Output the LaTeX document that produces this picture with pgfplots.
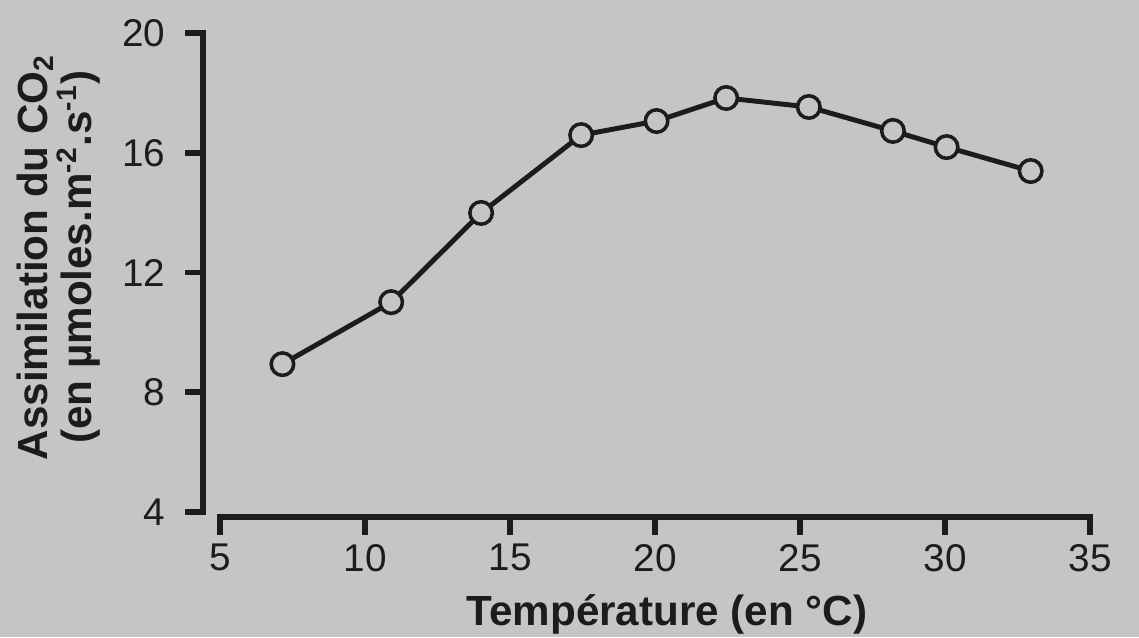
\documentclass[border=0pt]{standalone}
\usepackage{pgfplots}
\pgfplotsset{compat=1.18}
\usepackage{fontspec}
\setmainfont{Liberation Sans}
\usetikzlibrary{backgrounds}
\definecolor{paper}{RGB}{197,197,195}
\definecolor{ink}{RGB}{28,28,28}
\begin{document}
\begin{tikzpicture}
\begin{axis}[
    at={(0,0)}, anchor=south west,
    scale only axis,
    width=252.4pt, height=137.7pt,
    xmin=4.41, xmax=35,
    ymin=3.833, ymax=20,
    axis lines=left,
    axis line style={draw=none,-},
    clip=false,
    xtick={5,10,...,35},
    ytick={4,8,...,20},
    tick align=outside,
    major tick length=5pt,
    tick style={ink, line width=1.6pt},
    /pgf/number format/assume math mode=true,
    tick label style={font=\fontsize{11}{13}\selectfont, text=ink},
    xticklabel style={anchor=north, inner sep=0pt, yshift=-2.5pt},
    yticklabel style={anchor=east, inner sep=0pt, xshift=-5.5pt},
    xlabel={Température (en °C)},
    xlabel style={at={(axis description cs:0.523,0)}, anchor=north, inner sep=0pt,
        yshift=-22pt, font=\bfseries\fontsize{12}{14}\selectfont, text=ink},
    ylabel={Assimilation du CO\textsubscript{2}\\(en µmoles.m\textsuperscript{-2}.s\textsuperscript{-1})},
    ylabel style={at={(axis description cs:-0.115,0.537)}, anchor=south, inner sep=0pt,
        align=center, font=\bfseries\fontsize{12}{12.5}\selectfont, text=ink},
]
% axis lines, detached like in the print
\draw[ink, line width=1.7pt, line cap=rect] (axis cs:4.41,4) -- (axis cs:4.41,20);
\draw[ink, line width=1.7pt, line cap=rect] (axis cs:5,3.833) -- (axis cs:35,3.833);

\addplot[ink, line width=1.4pt, mark=*, mark size=3.2pt,
    mark options={fill=paper, draw=ink, line width=1pt}]
table {
x      y
7.15   8.94
10.9   11.01
14.0   13.99
17.45  16.59
20.05  17.06
22.45  17.83
25.3   17.53
28.2   16.73
30.05  16.19
32.95  15.39
};
\end{axis}
\begin{scope}[on background layer]
\fill[paper] (-57.75pt,-34.14pt) rectangle (266.3pt,147.1pt);
\end{scope}
\end{tikzpicture}
\end{document}
